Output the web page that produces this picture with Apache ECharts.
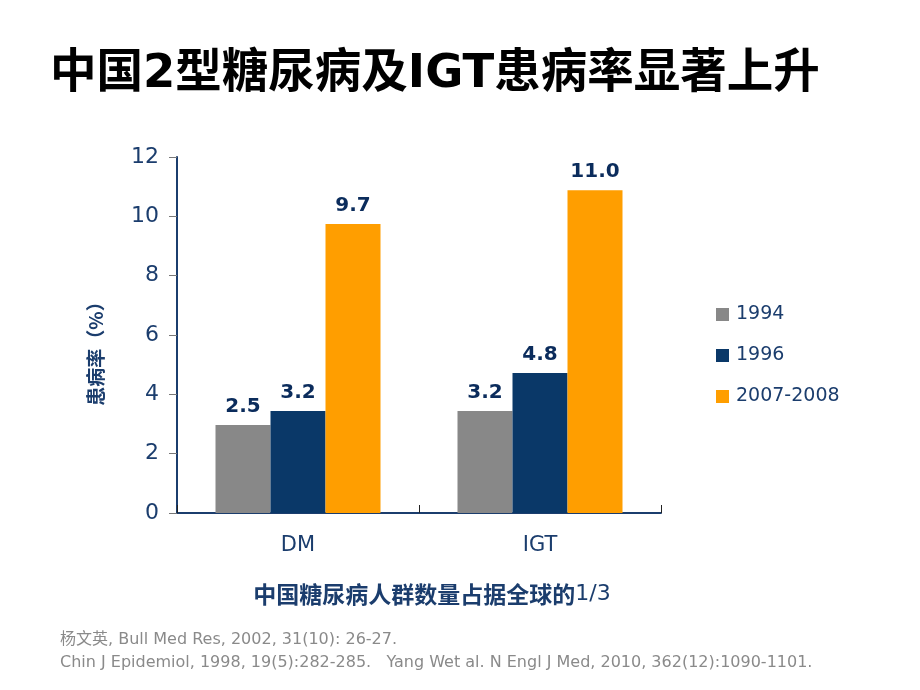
<!DOCTYPE html>
<html>
<head>
<meta charset="utf-8">
<script src="https://cdn.jsdelivr.net/npm/echarts@6/dist/echarts.min.js"></script>
<style>html,body{margin:0;padding:0;background:#fff;}#c{width:920px;height:690px;}</style>
</head>
<body>
<div id="c"></div>
<script>
const categories = ['DM', 'IGT'];
const seriesNames = ['1994', '1996', '2007-2008'];
const values1994 = [2.97, 3.44];
const values1996 = [3.44, 4.72];
const values2007 = [9.74, 10.88];
const labels1994 = ['2.5', '3.2'];
const labels1996 = ['3.2', '4.8'];
const labels2007 = ['9.7', '11.0'];
const colors = ['#888888', '#0a3868', '#ff9e00'];

const FONT = '"DejaVu Sans", "Noto Sans CJK SC", sans-serif';
const CJK = '"Noto Sans CJK SC", "DejaVu Sans", sans-serif';
const NAVY = '#1b3d6d';

function mk(name, vals, labs, color) {
  return {
    name: name, type: 'bar', data: vals, barWidth: 55, barGap: '0%',
    itemStyle: { color: color },
    label: {
      show: true, position: 'top', distance: 8,
      formatter: p => labs[p.dataIndex],
      fontFamily: FONT, fontSize: 20, fontWeight: 'bold', color: '#0b2c5c'
    }
  };
}

const chart = echarts.init(document.getElementById('c'));
chart.setOption({
  animation: false,
  backgroundColor: '#fff',
  title: [
    { text: '中国2型糖尿病及IGT患病率显著上升', left: 45, top: 47,
      textStyle: { fontFamily: FONT, fontSize: 46.5, fontWeight: 'bold', color: '#000' } },
    { text: '{a|中国糖尿病人群数量占据全球的}{b|1/3}', left: 427, top: 578, textAlign: 'center',
      textStyle: { rich: {
        a: { fontFamily: CJK, fontSize: 23, fontWeight: 'bold', color: NAVY },
        b: { fontFamily: FONT, fontSize: 22, fontWeight: 'normal', color: NAVY }
      } } },
    { text: '杨文英, Bull Med Res, 2002, 31(10): 26-27.\nChin J Epidemiol, 1998, 19(5):282-285.   Yang Wet al. N Engl J Med, 2010, 362(12):1090-1101.',
      left: 55, top: 623,
      textStyle: { fontFamily: FONT, fontSize: 16, fontWeight: 'normal', color: '#8a8a8a', lineHeight: 23 } }
  ],
  legend: {
    orient: 'vertical', left: 711, top: 300, itemWidth: 13, itemHeight: 13, itemGap: 22,
    icon: 'rect',
    textStyle: { fontFamily: FONT, fontSize: 19, color: NAVY, padding: [0, 0, 0, 2] },
    data: seriesNames
  },
  grid: { left: 177, top: 157, width: 484, bottom: 177, containLabel: false },
  xAxis: {
    type: 'category', data: categories,
    axisLine: { lineStyle: { color: '#1b3d6d', width: 2 } },
    axisTick: { show: true, inside: true, length: 8, lineStyle: { color: '#222', width: 1 } },
    axisLabel: { fontFamily: FONT, fontSize: 21, color: NAVY, margin: 22 }
  },
  yAxis: {
    type: 'value', min: 0, max: 12, interval: 2,
    name: '患病率（%）', nameLocation: 'middle', nameGap: 72, nameRotate: 90,
    nameTextStyle: { fontFamily: CJK, fontSize: 19, fontWeight: 'bold', color: NAVY, padding: [0, 28, 0, 0] },
    axisLine: { show: true, lineStyle: { color: '#1b3d6d', width: 2 } },
    axisTick: { show: true, length: 8, lineStyle: { color: '#777', width: 1 } },
    splitLine: { show: false },
    axisLabel: { fontFamily: FONT, fontSize: 22, color: NAVY, margin: 18 }
  },
  series: [
    mk(seriesNames[0], values1994, labels1994, colors[0]),
    mk(seriesNames[1], values1996, labels1996, colors[1]),
    mk(seriesNames[2], values2007, labels2007, colors[2])
  ]
});
</script>
</body>
</html>
